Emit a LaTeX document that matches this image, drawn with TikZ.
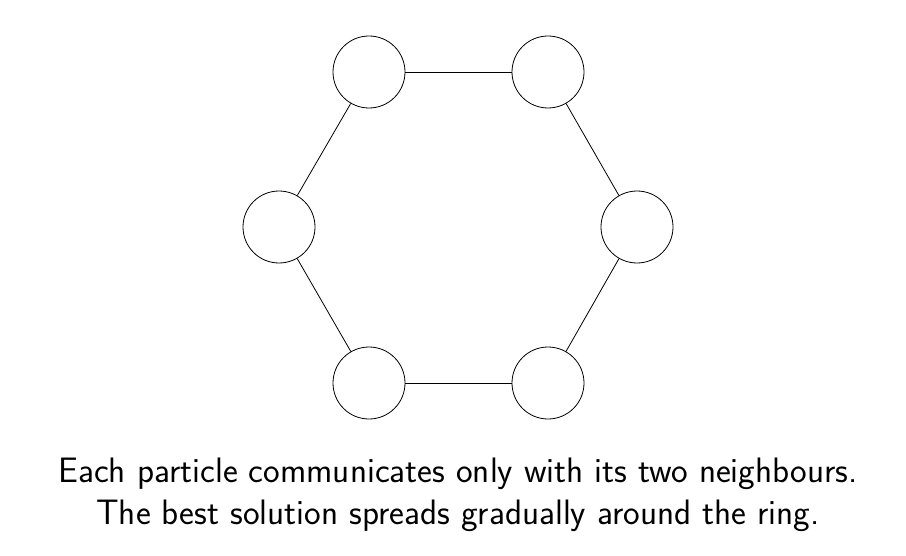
\documentclass[tikz,border=0pt]{standalone}
\begin{document}
\begin{tikzpicture}[x=0.75pt,y=-0.75pt,
  particle/.style={circle,draw,line width=0.6pt,minimum size=54pt,inner sep=0pt},
  link/.style={line width=0.6pt},
  caption/.style={align=center,inner sep=0pt,font=\sffamily\fontsize{26.5}{31.5}\selectfont}]
\useasboundingbox (0,0) rectangle (906,556);
\node[particle] (p1) at (369,72) {};
\node[particle] (p2) at (548,72) {};
\node[particle] (p3) at (637,227) {};
\node[particle] (p4) at (548,383) {};
\node[particle] (p5) at (369,383) {};
\node[particle] (p6) at (279,227) {};
\draw[link] (p1) -- (p2);
\draw[link] (p2) -- (p3);
\draw[link] (p3) -- (p4);
\draw[link] (p4) -- (p5);
\draw[link] (p5) -- (p6);
\draw[link] (p6) -- (p1);
\node[caption] (cap) at (458,495) {Each particle communicates only with its two neighbours.\\The best solution spreads gradually around the ring.};
\end{tikzpicture}
\end{document}
